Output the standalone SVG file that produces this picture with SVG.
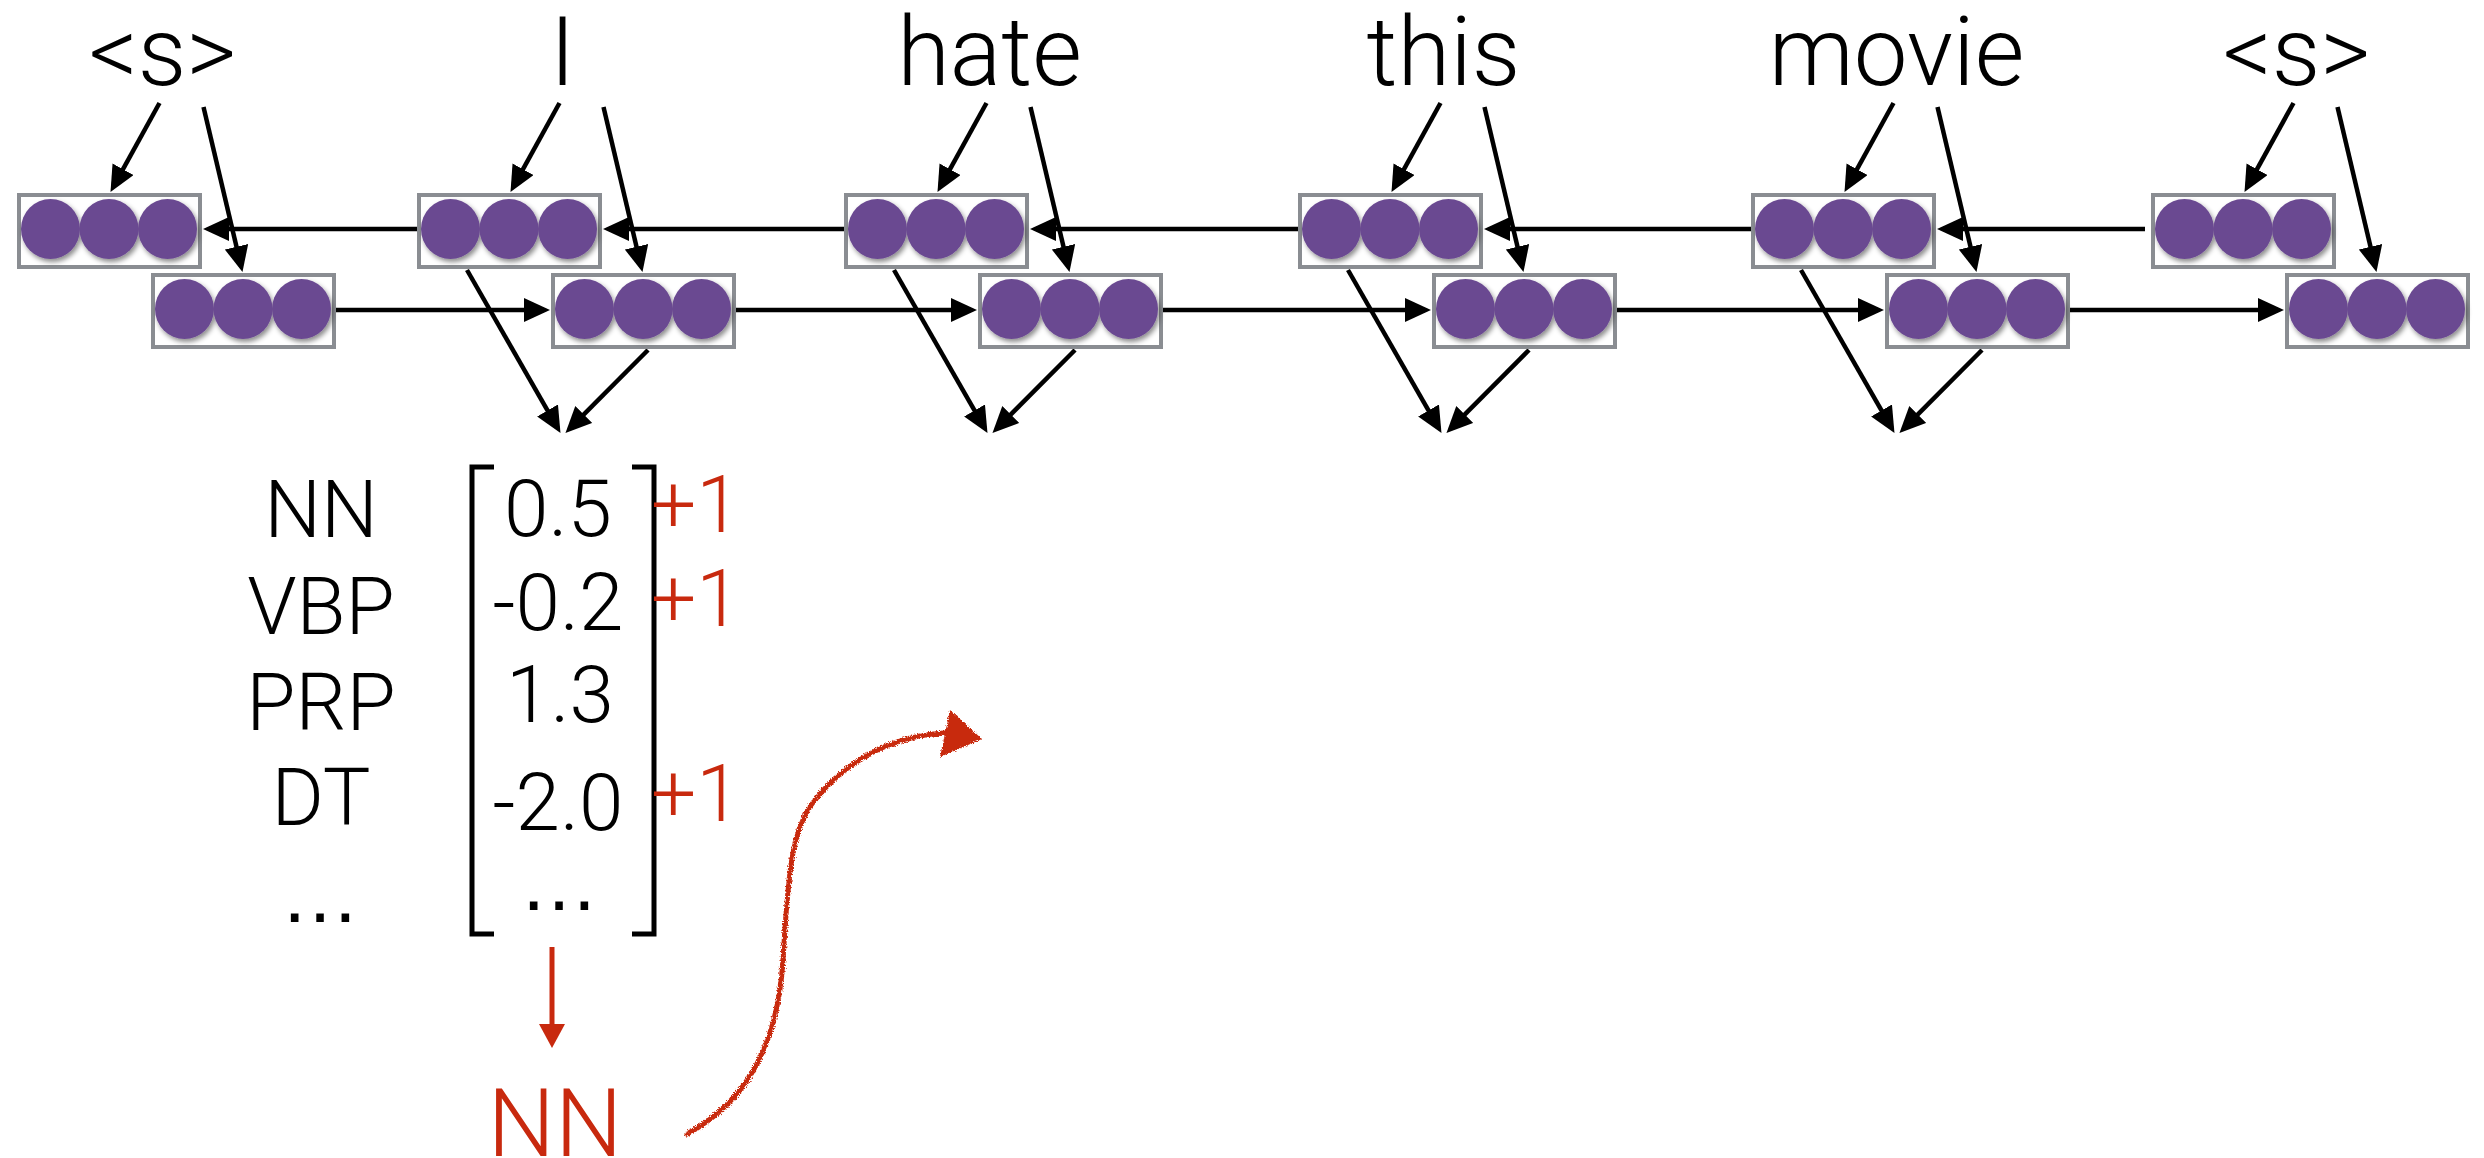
<svg xmlns="http://www.w3.org/2000/svg" xmlns:xlink="http://www.w3.org/1999/xlink" width="2484" height="1158" viewBox="0 0 2484 1158">
<style>
  .w { font-family: "Helvetica Neue", Roboto, "Liberation Sans", sans-serif; font-weight: 300; font-size: 96px; fill: #000; text-anchor: middle; }
  .t { font-family: "Helvetica Neue", Roboto, "Liberation Sans", sans-serif; font-weight: 300; font-size: 80px; fill: #000; text-anchor: middle; }
  .e { font-family: "Liberation Sans", Arial, sans-serif; font-size: 80px; fill: #000; text-anchor: middle; }
  .r { font-family: "Helvetica Neue", Roboto, "Liberation Sans", sans-serif; font-weight: 300; font-size: 80px; fill: #c8290e; }
  .rb { font-family: "Helvetica Neue", Roboto, "Liberation Sans", sans-serif; font-weight: 300; font-size: 95px; fill: #c8290e; text-anchor: middle; }
  .c { fill: none; stroke: #000; stroke-width: 4.5; marker-end: url(#ah); }
  .br { fill: none; stroke: #000; stroke-width: 5; }
</style>
<defs>
  <marker id="ah" viewBox="0 0 26 24" refX="20" refY="12" markerWidth="26" markerHeight="24" markerUnits="userSpaceOnUse" orient="auto">
    <path d="M0,0 L26,12 L0,24 z" fill="#000"/>
  </marker>
  <marker id="ahr" viewBox="0 0 24 26" refX="18" refY="13" markerWidth="24" markerHeight="26" markerUnits="userSpaceOnUse" orient="auto">
    <path d="M0,0 L24,13 L0,26 z" fill="#c8290e"/>
  </marker>
  <filter id="sh" x="-30%" y="-30%" width="160%" height="160%">
    <feDropShadow dx="2" dy="3" stdDeviation="2.5" flood-color="#000" flood-opacity="0.45"/>
  </filter>
  <filter id="rough" x="-10%" y="-10%" width="120%" height="120%">
    <feTurbulence type="fractalNoise" baseFrequency="0.8" numOctaves="2" seed="3" result="n"/>
    <feDisplacementMap in="SourceGraphic" in2="n" scale="5" xChannelSelector="R" yChannelSelector="G"/>
  </filter>
  <g id="cell">
    <rect x="2" y="2" width="181" height="72" fill="#fff" stroke="#8a8d92" stroke-width="4"/>
    <g filter="url(#sh)" fill="#6b4a91">
      <ellipse cx="33.5" cy="36" rx="29.5" ry="30"/>
      <ellipse cx="92" cy="36" rx="29.5" ry="30"/>
      <ellipse cx="150.5" cy="36" rx="29.5" ry="30"/>
    </g>
  </g>
</defs>
<rect width="2484" height="1158" fill="#fff"/>

<g id="connectors">
  <!-- top (backward) row -->
  <path class="c" d="M417,229 L209,229"/>
  <path class="c" d="M844,229 L609,229"/>
  <path class="c" d="M1298,229 L1036,229"/>
  <path class="c" d="M1751,229 L1490,229"/>
  <path class="c" d="M2145,229 L1943,229"/>
  <!-- bottom (forward) row -->
  <path class="c" d="M336,310 L544,310"/>
  <path class="c" d="M736,310 L971,310"/>
  <path class="c" d="M1163,310 L1425,310"/>
  <path class="c" d="M1617,310 L1878,310"/>
  <path class="c" d="M2070,310 L2278,310"/>
  <!-- word to top cell -->
  <path class="c" d="M159.5,103 L113.4,186.7"/>
  <path class="c" d="M559.5,103 L513.4,186.7"/>
  <path class="c" d="M986.5,103 L940.4,186.7"/>
  <path class="c" d="M1440.5,103 L1394.4,186.7"/>
  <path class="c" d="M1893.5,103 L1847.4,186.7"/>
  <path class="c" d="M2293.5,103 L2247.4,186.7"/>
  <!-- word to bottom cell -->
  <path class="c" d="M203.5,107 L241.1,266.2"/>
  <path class="c" d="M603.5,107 L641.1,266.2"/>
  <path class="c" d="M1030.5,107 L1068.1,266.2"/>
  <path class="c" d="M1484.5,107 L1522.1,266.2"/>
  <path class="c" d="M1937.5,107 L1975.1,266.2"/>
  <path class="c" d="M2337.5,107 L2375.1,266.2"/>
  <!-- outputs -->
  <path class="c" d="M467,270 L557.5,427.8"/>
  <path class="c" d="M648,350 L569.7,428.7"/>
  <path class="c" d="M894,270 L984.5,427.8"/>
  <path class="c" d="M1075,350 L996.7,428.7"/>
  <path class="c" d="M1348,270 L1438.5,427.8"/>
  <path class="c" d="M1529,350 L1450.7,428.7"/>
  <path class="c" d="M1801,270 L1891.5,427.8"/>
  <path class="c" d="M1982,350 L1903.7,428.7"/>
  <!-- red argmax arrow -->
  <path d="M552,947 L552,1042" fill="none" stroke="#c8290e" stroke-width="5" marker-end="url(#ahr)"/>
  <!-- red wavy arrow -->
  <g filter="url(#rough)">
    <path d="M687,1134 C750,1100 778,1040 783,960 C788,880 790,830 815,800 C845,762 890,736 945,733" fill="none" stroke="#c8290e" stroke-width="5" stroke-linecap="round"/>
    <polygon points="950,710 982,739 940,757" fill="#c8290e"/>
  </g>
</g>

<g id="w0"><text class="w" x="162.5" y="85">&lt;s&gt;</text></g>
<g id="w1"><text class="w" x="562.5" y="85">I</text></g>
<g id="w2"><text class="w" x="989.5" y="85">hate</text></g>
<g id="w3"><text class="w" x="1443.5" y="85">this</text></g>
<g id="w4"><text class="w" x="1896.5" y="85">movie</text></g>
<g id="w5"><text class="w" x="2296.5" y="85">&lt;s&gt;</text></g>

<g id="b0"><use href="#cell" x="17" y="193"/></g>
<g id="b1"><use href="#cell" x="417" y="193"/></g>
<g id="b2"><use href="#cell" x="844" y="193"/></g>
<g id="b3"><use href="#cell" x="1298" y="193"/></g>
<g id="b4"><use href="#cell" x="1751" y="193"/></g>
<g id="b5"><use href="#cell" x="2151" y="193"/></g>

<g id="f0"><use href="#cell" x="151" y="273"/></g>
<g id="f1"><use href="#cell" x="551" y="273"/></g>
<g id="f2"><use href="#cell" x="978" y="273"/></g>
<g id="f3"><use href="#cell" x="1432" y="273"/></g>
<g id="f4"><use href="#cell" x="1885" y="273"/></g>
<g id="f5"><use href="#cell" x="2285" y="273"/></g>

<g id="tags">
  <text class="t" x="321" y="537">NN</text>
  <text class="t" x="321" y="634">VBP</text>
  <text class="t" x="321" y="730">PRP</text>
  <text class="t" x="321" y="825">DT</text>
  <text class="e" x="320" y="922">…</text>
</g>

<g id="scores">
  <path class="br" d="M494,467 L472,467 L472,934 L494,934"/>
  <path class="br" d="M632,467 L654,467 L654,934 L632,934"/>
  <text class="t" x="558" y="536">0.5</text>
  <text class="t" x="558" y="630">-0.2</text>
  <text class="t" x="560" y="722">1.3</text>
  <text class="t" x="558" y="830">-2.0</text>
  <text class="e" x="559" y="910">…</text>
</g>

<g id="plus">
  <text class="r" x="651" y="532">+1</text>
  <text class="r" x="651" y="626">+1</text>
  <text class="r" x="651" y="821">+1</text>
</g>

<g id="pred"><text class="rb" x="555" y="1156">NN</text></g>
</svg>
